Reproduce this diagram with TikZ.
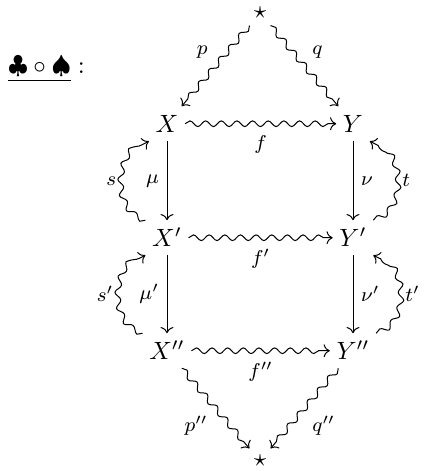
\documentclass[tikz,border=0pt]{standalone}
\usetikzlibrary{decorations.pathmorphing,arrows.meta}
\tikzset{
  obj/.style={anchor=base, inner sep=2.5pt, text height=8pt, text depth=0.6pt},
  pt/.style={inner sep=2.5pt},
  lab/.style={font=\footnotesize, inner sep=3pt},
  cmarrow/.style={-{Computer Modern Rightarrow}},
  sq/.style={cmarrow, decorate, decoration={snake, amplitude=.4mm, segment length=2.2mm, post length=1mm}},
}
\begin{document}
\begin{tikzpicture}[x=0.4pt, y=0.4pt, line width=0.4pt]
\useasboundingbox (0,0) rectangle (423,471);
\node[anchor=base west, inner sep=0pt] (title) at (8,397) {$\underline{\clubsuit\circ\spadesuit}:$};
\node[pt] (s1) at (260,458) {$\star$};
\node[obj] (X) at (167,338) {$X$};
\node[obj] (Y) at (353,338) {$Y$};
\node[obj] (X1) at (167,224) {$X'$};
\node[obj] (Y1) at (353,224) {$Y'$};
\node[obj] (X2) at (167,111) {$X''$};
\node[obj] (Y2) at (353,111) {$Y''$};
\node[pt] (s2) at (260,10) {$\star$};

\draw[sq] (s1) -- node[lab, above left]{$p$} (X);
\draw[sq] (s1) -- node[lab, above right]{$q$} (Y);
\draw[sq] (X) -- node[lab, below, yshift=-1.5pt]{$f$} (Y);
\draw[sq] (X1) -- node[lab, below, yshift=-1.5pt]{$f'$} (Y1);
\draw[sq] (X2) -- node[lab, below, yshift=-1.5pt]{$f''$} (Y2);
\draw[cmarrow] (X) -- node[lab, left]{$\mu$} (X1);
\draw[cmarrow] (X1) -- node[lab, left]{$\mu'$} (X2);
\draw[cmarrow] (Y) -- node[lab, right]{$\nu$} (Y1);
\draw[cmarrow] (Y1) -- node[lab, right]{$\nu'$} (Y2);
\draw[sq] (X1.north west) to[out=160, in=200, looseness=1.05] node[lab, left]{$s$} (X.south west);
\draw[sq] (X2.north west) to[out=160, in=200, looseness=1.05] node[lab, left]{$s'$} (X1.south west);
\draw[sq] (Y1.north east) to[out=20, in=-20, looseness=1.05] node[lab, right]{$t$} (Y.south east);
\draw[sq] (Y2.north east) to[out=20, in=-20, looseness=1.05] node[lab, right]{$t'$} (Y1.south east);
\draw[sq] (X2) -- node[lab, below left]{$p''$} (s2);
\draw[sq] (Y2) -- node[lab, below right]{$q''$} (s2);
\end{tikzpicture}
\end{document}
